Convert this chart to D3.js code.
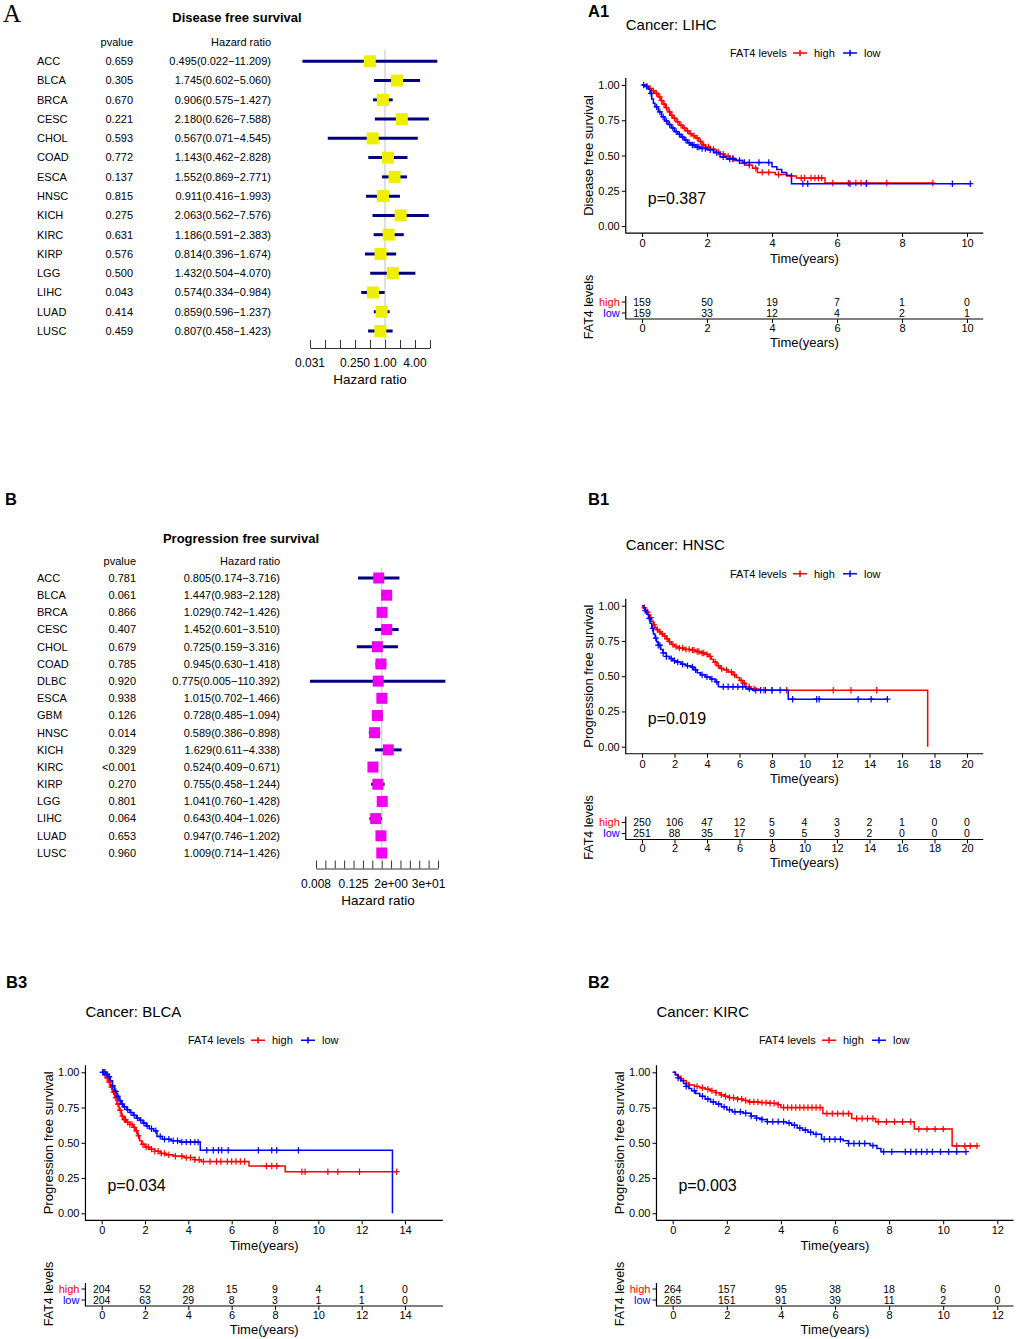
<!DOCTYPE html>
<html>
<head>
<meta charset="utf-8">
<script src="https://cdn.jsdelivr.net/npm/d3@7"></script>
<style>
  body { margin: 0; background: #fff; }
  svg text { fill: #000; }
</style>
</head>
<body>
<div id="chart"></div>
<script>
const WIDTH = 1016;
const HEIGHT = 1339;
const FONT = '"Liberation Sans", Arial, sans-serif';
const RED = "#ff0000";
const BLUE = "#0000ff";

// ---- forest plot data (disease free survival)
const dfsCancers = ["ACC","BLCA","BRCA","CESC","CHOL","COAD","ESCA","HNSC","KICH","KIRC","KIRP","LGG","LIHC","LUAD","LUSC"];
const dfsPvalue = ["0.659","0.305","0.670","0.221","0.593","0.772","0.137","0.815","0.275","0.631","0.576","0.500","0.043","0.414","0.459"];
const dfsHR = [0.495,1.745,0.906,2.180,0.567,1.143,1.552,0.911,2.063,1.186,0.814,1.432,0.574,0.859,0.807];
const dfsLower = [0.022,0.602,0.575,0.626,0.071,0.462,0.869,0.416,0.562,0.591,0.396,0.504,0.334,0.596,0.458];
const dfsUpper = [11.209,5.060,1.427,7.588,4.545,2.828,2.771,1.993,7.576,2.383,1.674,4.070,0.984,1.237,1.423];
const dfsTickExp = [-5,-4,-3,-2,-1,0,1,2,3];
const dfsTickLabels = ["0.031","","","0.250","","1.00","","4.00",""];

// ---- forest plot data (progression free survival)
const pfsCancers = ["ACC","BLCA","BRCA","CESC","CHOL","COAD","DLBC","ESCA","GBM","HNSC","KICH","KIRC","KIRP","LGG","LIHC","LUAD","LUSC"];
const pfsPvalue = ["0.781","0.061","0.866","0.407","0.679","0.785","0.920","0.938","0.126","0.014","0.329","<0.001","0.270","0.801","0.064","0.653","0.960"];
const pfsHR = [0.805,1.447,1.029,1.452,0.725,0.945,0.775,1.015,0.728,0.589,1.629,0.524,0.755,1.041,0.643,0.947,1.009];
const pfsLower = [0.174,0.983,0.742,0.601,0.159,0.630,0.005,0.702,0.485,0.386,0.611,0.409,0.458,0.760,0.404,0.746,0.714];
const pfsUpper = [3.716,2.128,1.426,3.510,3.316,1.418,110.392,1.466,1.094,0.898,4.338,0.671,1.244,1.428,1.026,1.202,1.426];
const pfsTickExp = [-7,-6,-5,-4,-3,-2,-1,0,1,2,3,4,5,6];
const pfsTickLabels = ["0.008","","","","0.125","","","","2e+00","","","","3e+01",""];

// ---- KM curves: [time, survival after step]
const survTicks = [0, 0.25, 0.5, 0.75, 1];
const groups = ["high", "low"];

const lihcHigh = [[0,1],[0.1,0.99],[0.2,0.975],[0.3,0.96],[0.4,0.94],[0.5,0.915],[0.58,0.89],[0.65,0.865],[0.72,0.84],[0.8,0.81],[0.88,0.785],[0.95,0.765],[1.05,0.74],[1.15,0.715],[1.25,0.695],[1.35,0.675],[1.45,0.655],[1.55,0.64],[1.65,0.625],[1.75,0.6],[1.85,0.575],[1.95,0.56],[2.1,0.545],[2.25,0.525],[2.4,0.51],[2.55,0.495],[2.7,0.48],[2.85,0.465],[3.0,0.445],[3.2,0.43],[3.4,0.41],[3.55,0.38],[4.1,0.365],[4.45,0.355],[4.75,0.34],[5.63,0.305]];
const lihcLow = [[0,1],[0.1,0.99],[0.2,0.97],[0.25,0.94],[0.3,0.9],[0.35,0.87],[0.4,0.845],[0.5,0.81],[0.6,0.775],[0.7,0.745],[0.8,0.72],[0.9,0.695],[1.0,0.67],[1.1,0.65],[1.2,0.63],[1.3,0.61],[1.4,0.59],[1.5,0.575],[1.65,0.56],[1.8,0.55],[2.0,0.54],[2.2,0.52],[2.4,0.49],[2.6,0.475],[2.9,0.465],[3.1,0.45],[4.0,0.42],[4.15,0.4],[4.3,0.38],[4.45,0.36],[4.6,0.3]];
const lihcHighCensor = [0.15,0.25,0.35,0.45,0.55,0.6,0.68,0.75,0.85,0.92,1.0,1.1,1.2,1.3,1.4,1.5,1.6,1.7,1.8,1.9,2.05,2.2,2.35,2.5,2.65,2.8,3.3,3.5,3.7,3.9,4.2,4.6,4.9,5.0,5.2,5.32,5.43,5.53,5.87,6.35,6.58,6.74,6.91,7.53,8.95];
const lihcLowCensor = [0.05,0.15,0.28,0.45,0.55,0.65,0.75,0.85,0.95,1.05,1.15,1.25,1.35,1.45,1.55,1.6,1.7,1.75,1.85,1.95,2.1,2.3,2.5,2.7,2.8,3.0,3.15,3.3,3.6,3.9,4.95,5.1,6.4,6.9,9.55,10.1];
const lihcRiskTimes = [0,2,4,6,8,10];
const lihcRiskHigh = [159,50,19,7,1,0];
const lihcRiskLow = [159,33,12,4,2,1];

const hnscHigh = [[0,1],[0.1,0.985],[0.2,0.97],[0.3,0.955],[0.4,0.935],[0.5,0.915],[0.6,0.89],[0.7,0.865],[0.8,0.845],[0.9,0.83],[1.05,0.815],[1.2,0.8],[1.35,0.785],[1.5,0.765],[1.65,0.745],[1.8,0.725],[2.0,0.71],[2.2,0.7],[2.6,0.69],[3.0,0.685],[3.3,0.675],[3.6,0.665],[3.9,0.655],[4.1,0.64],[4.25,0.62],[4.4,0.6],[4.6,0.575],[4.8,0.555],[5.0,0.545],[5.3,0.53],[5.6,0.51],[5.8,0.49],[6.0,0.47],[6.2,0.45],[6.4,0.425],[6.7,0.41],[7.2,0.4],[17.58,0]];
const hnscLow = [[0,1],[0.1,0.985],[0.2,0.965],[0.3,0.94],[0.4,0.91],[0.5,0.875],[0.6,0.84],[0.7,0.8],[0.8,0.77],[0.9,0.745],[1.0,0.72],[1.15,0.69],[1.3,0.665],[1.5,0.64],[1.7,0.625],[1.9,0.61],[2.1,0.6],[2.4,0.585],[2.7,0.575],[3.0,0.565],[3.2,0.545],[3.4,0.525],[3.6,0.51],[3.9,0.495],[4.2,0.48],[4.5,0.46],[4.7,0.425],[6.4,0.41],[6.8,0.4],[9.0,0.337]];
const hnscHighCensor = [0.15,0.35,0.55,0.75,0.95,1.1,1.25,1.4,1.55,1.7,1.9,2.1,2.3,2.5,2.7,2.9,3.1,3.2,3.4,3.5,3.7,3.8,4.0,4.2,4.5,4.7,4.9,5.2,5.5,5.7,6.1,6.3,6.6,6.9,7.5,8.0,8.9,11.77,12.86,14.44];
const hnscLowCensor = [0.2,0.45,0.65,0.85,1.0,1.1,1.3,1.5,1.8,2.0,2.2,2.5,2.8,3.1,3.3,3.7,4.0,4.3,4.6,5.0,5.3,5.6,5.9,6.2,6.6,7.0,7.3,7.6,8.0,8.5,9.27,10.75,10.9,13.3,14.1,15.1];
const hnscRiskTimes = [0,2,4,6,8,10,12,14,16,18,20];
const hnscRiskHigh = [250,106,47,12,5,4,3,2,1,0,0];
const hnscRiskLow = [251,88,35,17,9,5,3,2,0,0,0];

const blcaHigh = [[0,1],[0.1,0.985],[0.2,0.96],[0.3,0.93],[0.4,0.895],[0.5,0.86],[0.6,0.82],[0.7,0.775],[0.8,0.73],[0.9,0.69],[1.0,0.665],[1.15,0.645],[1.3,0.63],[1.45,0.61],[1.55,0.585],[1.65,0.55],[1.75,0.515],[1.85,0.49],[2.0,0.47],[2.2,0.455],[2.45,0.44],[2.7,0.425],[2.95,0.415],[3.3,0.405],[3.8,0.395],[4.3,0.38],[4.6,0.367],[6.8,0.335],[8.47,0.295]];
const blcaLow = [[0,1],[0.2,0.985],[0.3,0.97],[0.4,0.94],[0.5,0.905],[0.6,0.865],[0.7,0.83],[0.8,0.8],[0.9,0.775],[1.0,0.755],[1.15,0.735],[1.3,0.715],[1.45,0.695],[1.6,0.675],[1.75,0.66],[1.9,0.64],[2.05,0.62],[2.2,0.6],[2.4,0.585],[2.55,0.545],[2.8,0.525],[3.2,0.515],[3.6,0.505],[4.55,0.447],[13.42,0]];
const blcaHighCensor = [0.05,0.15,0.25,0.35,0.45,0.55,0.65,0.75,0.85,0.95,1.05,1.1,1.2,1.3,1.4,1.5,1.6,1.7,1.9,2.05,2.15,2.3,2.45,2.6,2.75,2.9,3.1,3.4,3.7,3.9,4.1,4.3,4.5,4.7,5.0,5.3,5.5,5.8,6.0,6.2,6.4,6.6,7.6,7.85,8.08,9.24,9.39,10.44,10.9,11.9,13.62];
const blcaLowCensor = [0.05,0.1,0.15,0.25,0.35,0.5,0.65,0.75,0.85,0.95,1.05,1.2,1.35,1.5,1.65,1.8,1.95,2.1,2.3,2.5,2.7,2.9,3.1,3.3,3.5,3.7,3.9,4.1,4.3,4.45,4.85,5.15,5.39,5.54,5.84,7.23,7.85,8.08,9.08];
const blcaRiskTimes = [0,2,4,6,8,10,12,14];
const blcaRiskHigh = [204,52,28,15,9,4,1,0];
const blcaRiskLow = [204,63,29,8,3,1,1,0];

const kircHigh = [[0,1],[0.1,0.985],[0.2,0.97],[0.3,0.955],[0.4,0.94],[0.5,0.925],[0.6,0.91],[0.8,0.9],[1.0,0.89],[1.2,0.88],[1.4,0.87],[1.6,0.855],[1.75,0.84],[1.9,0.83],[2.1,0.82],[2.4,0.81],[2.6,0.8],[2.8,0.79],[3.2,0.785],[3.6,0.78],[3.9,0.77],[4.0,0.75],[5.55,0.707],[6.62,0.672],[7.5,0.649],[8.93,0.597],[10.33,0.478]];
const kircLow = [[0,1],[0.1,0.98],[0.2,0.96],[0.3,0.94],[0.4,0.92],[0.5,0.9],[0.6,0.885],[0.7,0.87],[0.85,0.85],[1.0,0.83],[1.2,0.81],[1.4,0.79],[1.6,0.775],[1.8,0.755],[2.0,0.735],[2.2,0.72],[2.6,0.71],[2.9,0.69],[3.1,0.675],[3.3,0.665],[3.5,0.65],[4.2,0.64],[4.4,0.625],[4.6,0.605],[4.8,0.59],[5.0,0.575],[5.2,0.56],[5.5,0.525],[6.3,0.515],[6.5,0.495],[7.3,0.48],[7.55,0.46],[7.7,0.437]];
const kircHighCensor = [0.3,0.6,0.9,1.1,1.3,1.45,1.6,1.8,1.95,2.1,2.25,2.4,2.55,2.7,2.85,3.0,3.15,3.3,3.45,3.6,3.75,3.9,4.1,4.25,4.4,4.55,4.7,4.85,5.0,5.15,5.3,5.45,5.7,5.9,6.1,6.3,6.5,6.8,7.0,7.2,7.4,7.6,7.9,8.2,8.5,8.8,9.1,9.4,9.7,10.0,10.5,10.8,11.0,11.25];
const kircLowCensor = [0.2,0.5,0.8,1.1,1.3,1.5,1.7,1.9,2.1,2.3,2.5,2.7,2.9,3.1,3.3,3.5,3.7,3.9,4.1,4.3,4.5,4.7,4.9,5.1,5.3,5.6,5.8,6.0,6.2,6.5,6.7,6.9,7.1,7.4,7.8,8.1,8.6,8.8,9.0,9.2,9.4,9.6,9.9,10.2,10.5,10.84];
const kircRiskTimes = [0,2,4,6,8,10,12];
const kircRiskHigh = [264,157,95,38,18,6,0];
const kircRiskLow = [265,151,91,39,11,2,0];

var svg = d3.select("div#chart").append("svg")
    .attr("width", WIDTH)
    .attr("height", HEIGHT)
    .style("font-family", FONT);

function label(g, x, y, txt, size, anchor) {
  return g.append("text")
    .attr("x", x).attr("y", y).attr("dy", "0.35em")
    .attr("text-anchor", anchor || "start")
    .style("font-size", size + "px")
    .text(txt);
}

function drawForest(L, cancers, pvals, hr, lower, upper, tickExp, tickLabels) {
  var g = svg.append("g");
  var ticks = tickExp.map(e => Math.pow(2, e));
  var x = d3.scaleLog().base(2).domain([ticks[0], ticks[ticks.length - 1]]).range(L.xRange);
  var y = d3.scalePoint().domain(cancers).range(L.yRange);
  var fmt = d3.format(".3f");

  label(g, L.titleX, L.titleY, L.title, 13, "middle").style("font-weight", "bold");
  label(g, L.pX, L.headerY, "pvalue", 11, "end");
  label(g, L.hrX, L.headerY, "Hazard ratio", 11, "end");

  g.selectAll("text.name").data(cancers).join("text")
      .attr("class", "name")
      .attr("x", L.nameX).attr("y", d => y(d)).attr("dy", "0.35em")
      .style("font-size", "11px")
      .text(d => d);
  g.selectAll("text.pv").data(pvals).join("text")
      .attr("class", "pv")
      .attr("x", L.pX).attr("y", (d, i) => y(cancers[i])).attr("dy", "0.35em")
      .attr("text-anchor", "end")
      .style("font-size", "11px")
      .text(d => d);
  g.selectAll("text.hr").data(hr).join("text")
      .attr("class", "hr")
      .attr("x", L.hrX).attr("y", (d, i) => y(cancers[i])).attr("dy", "0.35em")
      .attr("text-anchor", "end")
      .style("font-size", "11px")
      .text((d, i) => `${fmt(d)}(${fmt(lower[i])}\u2212${fmt(upper[i])})`);

  g.append("line")
      .attr("x1", x(1)).attr("x2", x(1))
      .attr("y1", L.refTop).attr("y2", L.axisY - 8)
      .attr("stroke", "#d6d6d6").attr("stroke-width", 1.5);

  g.selectAll("line.ci").data(hr).join("line")
      .attr("class", "ci")
      .attr("x1", (d, i) => x(lower[i])).attr("x2", (d, i) => x(upper[i]))
      .attr("y1", (d, i) => y(cancers[i])).attr("y2", (d, i) => y(cancers[i]))
      .attr("stroke", "#000080").attr("stroke-width", 3);

  g.selectAll("rect.box").data(hr).join("rect")
      .attr("class", "box")
      .attr("x", d => x(d) - L.box / 2)
      .attr("y", (d, i) => y(cancers[i]) - L.box / 2)
      .attr("width", L.box).attr("height", L.box)
      .attr("fill", L.color);

  g.append("g")
      .attr("transform", `translate(0,${L.axisY})`)
      .call(d3.axisTop(x).tickValues(ticks).tickSize(8).tickSizeOuter(0).tickFormat(""))
      .call(a => a.selectAll("path, line").attr("stroke", "#333"));

  g.selectAll("text.tick").data(ticks.filter((d, i) => tickLabels[i])).join("text")
      .attr("class", "tick")
      .attr("x", d => x(d)).attr("y", L.tickLabelY).attr("dy", "0.35em")
      .attr("text-anchor", "middle")
      .style("font-size", "12px")
      .text(d => tickLabels[ticks.indexOf(d)]);

  label(g, L.xlabX, L.xlabY, "Hazard ratio", 13.5, "middle");
}

function stepValue(steps, t) {
  var i = d3.bisector(d => d[0]).right(steps, t) - 1;
  return steps[Math.max(0, i)][1];
}

function drawCurve(g, x, y, steps, censor, color) {
  var last = steps[steps.length - 1];
  var end = Math.max(last[0], d3.max(censor));
  var pts = steps.slice();
  if (end > last[0]) pts.push([end, last[1]]);
  var line = d3.line().x(d => x(d[0])).y(d => y(d[1])).curve(d3.curveStepAfter);
  g.append("path")
      .attr("d", line(pts))
      .attr("fill", "none")
      .attr("stroke", color)
      .attr("stroke-width", 1.5);
  g.append("g").selectAll("path").data(censor).join("path")
      .attr("d", t => {
        var cx = x(t), cy = y(stepValue(steps, t));
        return `M${cx - 3},${cy}h6M${cx},${cy - 3.2}v6.4`;
      })
      .attr("stroke", color)
      .attr("stroke-width", 1.2);
}

function drawKM(L, D) {
  var g = svg.append("g");
  var x = d3.scaleLinear().domain([0, L.tMax]).range([L.x0, L.x1]);
  var y = d3.scaleLinear().domain([0, 1]).range([L.yBot, L.yTop]);
  var left = x(-0.05 * L.xLim), right = x(1.05 * L.xLim);
  var top = y(1.05), axisY = y(-0.05);
  var colors = [RED, BLUE];

  label(g, L.tagX, L.tagY, L.tag, 16.5).style("font-weight", "bold");
  label(g, left, L.yTop - 60.5, "Cancer: " + D.cancer, 15);

  // legend
  var lg = g.append("g").attr("transform", `translate(${L.legendX},${L.yTop - 32})`);
  label(lg, 0, 0, "FAT4 levels", 11);
  groups.forEach((grp, i) => {
    var ox = 63 + 50 * i;
    lg.append("path")
        .attr("d", `M${ox},0h14M${ox + 7},-3.2v6.4`)
        .attr("stroke", colors[i]).attr("stroke-width", 1.5);
    label(lg, ox + 21, 0, grp, 11);
  });

  // axes
  g.append("g")
      .attr("transform", `translate(${left},0)`)
      .call(d3.axisLeft(y).tickValues(survTicks).tickFormat(d3.format(".2f")).tickSize(4).tickPadding(2))
      .call(a => a.select(".domain").remove())
      .attr("font-family", FONT).attr("font-size", 11);
  g.append("g")
      .attr("transform", `translate(0,${axisY})`)
      .call(d3.axisBottom(x).tickValues(D.riskTimes).tickSize(4).tickPadding(2))
      .call(a => a.select(".domain").remove())
      .attr("font-family", FONT).attr("font-size", 11);
  g.append("path")
      .attr("d", `M${left},${top}V${axisY}H${right}`)
      .attr("fill", "none").attr("stroke", "#000").attr("stroke-width", 1.2);

  label(g, (left + right) / 2, axisY + 25, "Time(years)", 13, "middle");
  g.append("text")
      .attr("transform", `translate(${left - 37},${(top + axisY) / 2}) rotate(-90)`)
      .attr("dy", "0.35em").attr("text-anchor", "middle")
      .style("font-size", "13px")
      .text(D.yTitle);

  drawCurve(g, x, y, D.high, D.highCensor, RED);
  drawCurve(g, x, y, D.low, D.lowCensor, BLUE);

  label(g, left + 22, L.yBot - 28, D.pText, 16);

  // risk table
  var rowY = [L.riskY, L.riskY + 11];
  var rAxisY = L.riskY + 17;
  var rows = [D.riskHigh, D.riskLow];
  g.append("path")
      .attr("d", `M${left},${L.riskY - 6}V${rAxisY}H${right}`)
      .attr("fill", "none").attr("stroke", "#000").attr("stroke-width", 1.2);
  rows.forEach((vals, r) => {
    g.append("line")
        .attr("x1", left - 4).attr("x2", left)
        .attr("y1", rowY[r]).attr("y2", rowY[r])
        .attr("stroke", "#000");
    label(g, left - 6, rowY[r], groups[r], 11, "end").style("fill", colors[r]);
    g.append("g").selectAll("text").data(vals).join("text")
        .attr("x", (d, i) => x(D.riskTimes[i]))
        .attr("y", rowY[r]).attr("dy", "0.35em")
        .attr("text-anchor", "middle")
        .style("font-size", "10.5px")
        .text(d => d);
  });
  g.append("g")
      .attr("transform", `translate(0,${rAxisY})`)
      .call(d3.axisBottom(x).tickValues(D.riskTimes).tickSize(4).tickPadding(1))
      .call(a => a.select(".domain").remove())
      .attr("font-family", FONT).attr("font-size", 11);
  label(g, (left + right) / 2, L.riskY + 40, "Time(years)", 13, "middle");
  g.append("text")
      .attr("transform", `translate(${left - 37},${L.riskY + 5}) rotate(-90)`)
      .attr("dy", "0.35em").attr("text-anchor", "middle")
      .style("font-size", "12.5px")
      .text("FAT4 levels");
}

// panel letters for the forest plots
svg.append("text")
    .attr("x", 3).attr("y", 21.5)
    .style("font-family", '"Liberation Serif", "Times New Roman", serif')
    .style("font-size", "25px")
    .text("A");
label(svg, 5, 499, "B", 16.5).style("font-weight", "bold");

drawForest({ title: "Disease free survival", titleX: 237, titleY: 17.7, headerY: 42,
             nameX: 37, pX: 133, hrX: 271, xRange: [310, 430], yRange: [61.3, 331],
             axisY: 348, tickLabelY: 363, xlabX: 370, xlabY: 379.5, refTop: 50, box: 12, color: "#eeee00" },
           dfsCancers, dfsPvalue, dfsHR, dfsLower, dfsUpper, dfsTickExp, dfsTickLabels);

drawForest({ title: "Progression free survival", titleX: 241, titleY: 538.5, headerY: 561,
             nameX: 37, pX: 136, hrX: 280, xRange: [316, 438], yRange: [578, 853],
             axisY: 868.5, tickLabelY: 884, xlabX: 378, xlabY: 900, refTop: 568, box: 11, color: "#f000f0" },
           pfsCancers, pfsPvalue, pfsHR, pfsLower, pfsUpper, pfsTickExp, pfsTickLabels);

drawKM({ tag: "A1", tagX: 588, tagY: 11.5, x0: 642, x1: 967, tMax: 10, xLim: 10, yTop: 85, yBot: 226, legendX: 730, riskY: 302 },
       { cancer: "LIHC", yTitle: "Disease free survival", pText: "p=0.387",
         high: lihcHigh, low: lihcLow, highCensor: lihcHighCensor, lowCensor: lihcLowCensor,
         riskTimes: lihcRiskTimes, riskHigh: lihcRiskHigh, riskLow: lihcRiskLow });

drawKM({ tag: "B1", tagX: 588, tagY: 499, x0: 642, x1: 967, tMax: 20, xLim: 20, yTop: 605.7, yBot: 746.7, legendX: 730, riskY: 822.5 },
       { cancer: "HNSC", yTitle: "Progression free survival", pText: "p=0.019",
         high: hnscHigh, low: hnscLow, highCensor: hnscHighCensor, lowCensor: hnscLowCensor,
         riskTimes: hnscRiskTimes, riskHigh: hnscRiskHigh, riskLow: hnscRiskLow });

drawKM({ tag: "B3", tagX: 6, tagY: 982, x0: 101.7, x1: 405, tMax: 14, xLim: 15, yTop: 1072.3, yBot: 1213.3, legendX: 188, riskY: 1289 },
       { cancer: "BLCA", yTitle: "Progression free survival", pText: "p=0.034",
         high: blcaHigh, low: blcaLow, highCensor: blcaHighCensor, lowCensor: blcaLowCensor,
         riskTimes: blcaRiskTimes, riskHigh: blcaRiskHigh, riskLow: blcaRiskLow });

drawKM({ tag: "B2", tagX: 588, tagY: 982, x0: 672.7, x1: 997.3, tMax: 12, xLim: 12, yTop: 1072.3, yBot: 1213.3, legendX: 759, riskY: 1289 },
       { cancer: "KIRC", yTitle: "Progression free survival", pText: "p=0.003",
         high: kircHigh, low: kircLow, highCensor: kircHighCensor, lowCensor: kircLowCensor,
         riskTimes: kircRiskTimes, riskHigh: kircRiskHigh, riskLow: kircRiskLow });
</script>
</body>
</html>
